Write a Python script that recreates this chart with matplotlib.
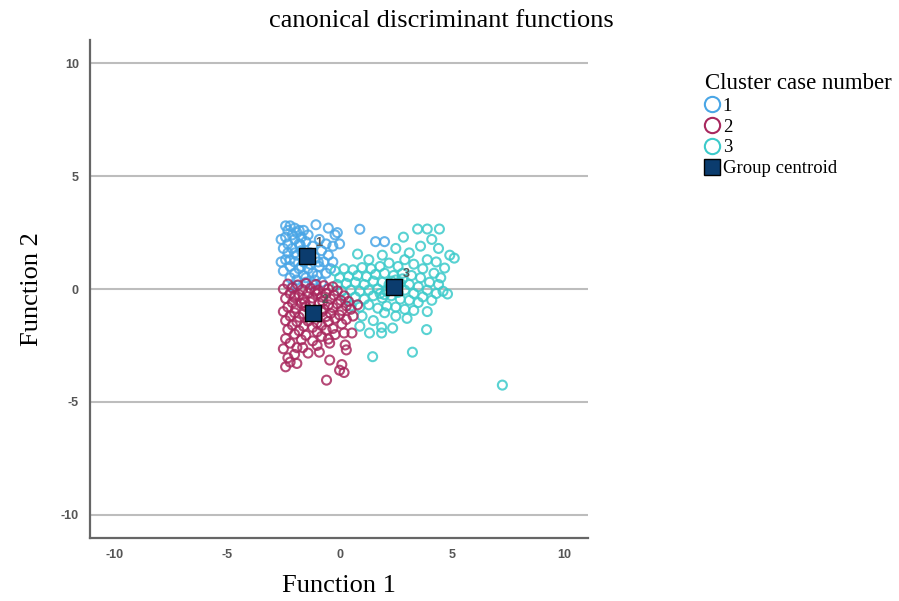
import matplotlib
matplotlib.use("Agg")
import matplotlib.pyplot as plt
from matplotlib.lines import Line2D

plt.rcParams["axes.unicode_minus"] = False

# ---- data (Function 1, Function 2) ----
c1_f1 = [-2.4,-2.2,-2.0,-2.3,-1.9,-2.1,-2.4,-1.7,-2.0,-2.3,-1.8,-1.5,-2.5,-2.1,-1.7,-2.3,-1.9,-2.4,-2.0,-1.6,
         -2.2,-1.8,-1.4,-2.0,-1.6,-1.2,-1.9,-1.5,-1.1,-0.9,-1.1,-0.8,-1.2,-0.9,-1.05,-0.6,-0.5,-0.7,-0.4,-0.2,
         -0.1,-0.3,-1.3,-1.4,-1.6,-2.6,-2.6,-2.5,-2.2,-1.3,-1.0,-0.6,-0.3,0.0,0.9,1.6,2.0,-1.7,-2.0,-1.8,
         -2.2,-0.5,-1.5,-1.2,-0.8,-2.1,-1.9,-1.4,-0.95,-1.75]
c1_f2 = [2.8,2.8,2.7,2.6,2.5,2.4,2.3,2.3,2.2,2.0,2.0,2.1,1.8,1.8,1.7,1.6,1.5,1.3,1.2,1.2,
         1.0,0.9,0.9,0.7,0.6,0.7,0.4,0.3,0.4,1.0,1.4,1.7,1.9,2.2,2.85,2.0,1.5,1.2,0.9,2.4,
         2.5,1.9,1.6,2.4,2.6,2.2,1.2,0.8,0.5,1.1,0.6,0.7,1.2,2.0,2.65,2.1,2.1,1.0,1.6,2.6,
         1.3,2.7,0.5,0.2,0.3,0.1,0.15,1.45,1.2,1.95]

c2_f1 = [-2.3,-1.85,-1.5,-1.05,-0.7,-0.3,
         -2.5,-2.1,-1.65,-1.3,-0.95,-0.5,-0.1,
         -2.2,-1.8,-1.4,-1.0,-0.6,-0.25,0.2,
         -2.4,-2.0,-1.6,-1.2,-0.8,-0.4,0.05,0.4,
         -2.1,-1.7,-1.3,-0.9,-0.5,-0.1,0.3,
         -2.3,-1.95,-1.5,-0.7,-0.3,0.1,0.5,
         -2.5,-2.0,-1.6,-0.8,-0.4,0.0,
         -2.2,-1.8,-0.6,-0.2,0.3,
         -2.4,-1.9,-1.4,-1.0,-0.5,0.1,
         -2.1,-1.6,-1.2,-0.8,-0.3,
         -2.3,-1.8,-1.0,-0.6,0.2,
         -2.0,-1.5,-0.8,-0.2,
         -2.4,-1.7,-1.2,-0.5,
         -2.2,-0.44,-1.0,
         -2.5,-1.9,-1.64,0.3,
         -1.4,-2.0,-0.9,
         -0.44,-2.3,
         -2.2,-1.9,0.1,
         -2.4,0.0,
         0.2,
         -0.58,
         0.55,0.25,0.8,0.6,-1.55,-2.0,-1.1,-0.75]
c2_f2 = [0.22,0.18,0.25,0.2,0.15,0.1,
         0.0,0.05,-0.02,0.03,-0.05,0.0,-0.08,
         -0.2,-0.25,-0.18,-0.22,-0.2,-0.27,-0.3,
         -0.42,-0.38,-0.45,-0.4,-0.35,-0.44,-0.5,-0.55,
         -0.6,-0.65,-0.58,-0.62,-0.7,-0.66,-0.75,
         -0.8,-0.85,-0.78,-0.9,-0.82,-0.95,-0.9,
         -1.0,-1.05,-1.1,-1.02,-1.08,-1.15,
         -1.2,-1.25,-1.22,-1.3,-1.35,
         -1.4,-1.45,-1.42,-1.5,-1.44,-1.55,
         -1.6,-1.65,-1.7,-1.62,-1.75,
         -1.8,-1.85,-1.9,-1.82,-1.95,
         -2.0,-2.05,-2.1,-2.02,
         -2.2,-2.25,-2.3,-2.22,
         -2.4,-2.4,-2.5,
         -2.65,-2.6,-2.6,-2.7,
         -2.84,-2.9,-2.8,
         -3.15,-3.05,
         -3.24,-3.3,-3.35,
         -3.45,-3.6,
         -3.7,
         -4.04,
         -1.95,-2.48,-0.7,-1.2,-0.6,-0.3,-0.1,-0.55]

c3_f1 = [3.47,3.9,4.44,2.84,4.1,3.6,4.4,4.9,5.1,3.1,2.5,1.9,1.3,0.8,3.9,4.3,4.67,4.2,3.7,3.3,
         2.9,2.6,2.2,1.8,1.4,1.0,0.6,0.2,-0.2,0.0,0.4,0.8,1.2,1.6,2.0,2.4,2.8,3.2,3.6,4.0,
         4.4,4.8,-0.1,0.3,0.7,1.1,1.5,1.9,2.3,2.7,3.1,3.5,3.9,4.3,0.1,0.5,0.9,1.3,1.7,2.1,
         2.9,3.3,3.7,4.1,0.3,0.7,1.1,1.5,1.9,2.3,2.7,3.1,3.5,0.5,0.9,1.3,1.7,2.1,2.5,2.9,
         3.3,3.9,1.0,1.5,2.5,2.0,3.0,0.9,4.6,4.5,2.4,2.6,2.2,2.0,2.8,2.5,1.8,
         1.47,3.24,1.87,1.87,2.36,3.87,1.33,
         7.24]
c3_f2 = [2.66,2.66,2.66,2.3,2.2,1.9,1.8,1.5,1.37,1.6,1.8,1.5,1.3,1.55,1.3,1.2,0.93,0.7,0.9,1.1,
         1.3,1.0,1.15,1.0,0.9,0.95,0.85,0.9,0.8,0.5,0.55,0.6,0.55,0.65,0.7,0.6,0.7,0.6,0.5,0.3,
         0.2,-0.22,0.2,0.25,0.3,0.2,0.35,0.3,0.35,0.25,0.2,0.1,-0.05,-0.2,-0.1,-0.05,-0.1,-0.05,0.0,-0.1,
         -0.05,-0.2,-0.35,-0.5,-0.4,-0.35,-0.45,-0.3,-0.4,-0.3,-0.45,-0.5,-0.6,-0.75,-0.8,-0.7,-0.85,-0.75,-0.8,-0.9,
         -0.95,-1.0,-1.2,-1.4,-1.2,-1.05,-1.3,-1.65,-0.1,0.5,0.05,-0.15,0.2,-0.25,0.45,0.4,-0.2,
         -3.0,-2.8,-1.7,-1.95,-1.73,-1.8,-1.95,
         -4.26]

centroid_f1 = [-1.47, -1.16, 2.44]
centroid_f2 = [1.46, -1.06, 0.09]
centroid_labels = ["1", "2", "3"]

legend_labels = ["1", "2", "3", "Group centroid"]
x_ticks = [-10, -5, 0, 5, 10]
y_ticks = [-10, -5, 0, 5, 10]

col1 = "#4aa6e6"
col2 = "#a8285e"
col3 = "#3ccaca"
cent_col = "#0b3c6e"

fig = plt.figure(figsize=(8.99, 6.01), dpi=100)
ax = fig.add_axes([0.1001, 0.1048, 0.554, 0.8286])

ax.set_xlim(-11.1, 11.05)
ax.set_ylim(-11.04, 11.04)
ax.set_xticks(x_ticks)
ax.set_yticks(y_ticks)
for yv in y_ticks:
    ax.axhline(yv, color="#bdbdbd", lw=1.5, zorder=0)

ms = 42
ax.scatter(c1_f1, c1_f2, s=ms, facecolors="none", edgecolors=col1, linewidths=1.5, alpha=0.85, zorder=2)
ax.scatter(c3_f1, c3_f2, s=ms, facecolors="none", edgecolors=col3, linewidths=1.5, alpha=0.85, zorder=3)
ax.scatter(c2_f1, c2_f2, s=ms, facecolors="none", edgecolors=col2, linewidths=1.5, alpha=0.85, zorder=4)
ax.scatter(centroid_f1, centroid_f2, s=120, marker="s", facecolors=cent_col, edgecolors="black",
           linewidths=1.0, zorder=6)
for fx, fy, lab in zip(centroid_f1, centroid_f2, centroid_labels):
    ax.annotate(lab, (fx, fy), xytext=(6, 7), textcoords="offset points", fontsize=9,
                color="#555555", fontweight="bold", family="Liberation Sans", zorder=7)

for s in ["top", "right"]:
    ax.spines[s].set_visible(False)
for s in ["left", "bottom"]:
    ax.spines[s].set_color("#666666")
    ax.spines[s].set_linewidth(1.6)
ax.tick_params(length=0, pad=8, labelsize=9, labelcolor="#555555")
for t in ax.get_xticklabels() + ax.get_yticklabels():
    t.set_fontweight("bold")
    t.set_family("Liberation Sans")

ax.set_xlabel("Function 1", family="Liberation Serif", fontsize=19, labelpad=10)
ax.set_ylabel("Function 2", family="Liberation Serif", fontsize=19, labelpad=13)
fig.text(0.491, 0.965, "canonical discriminant functions", family="Liberation Serif",
         fontsize=19, ha="center", va="center")

handles = [
    Line2D([], [], marker="o", ls="none", markerfacecolor="none", markeredgecolor=col1, markersize=11, mew=1.5),
    Line2D([], [], marker="o", ls="none", markerfacecolor="none", markeredgecolor=col2, markersize=11, mew=1.5),
    Line2D([], [], marker="o", ls="none", markerfacecolor="none", markeredgecolor=col3, markersize=11, mew=1.5),
    Line2D([], [], marker="s", ls="none", markerfacecolor=cent_col, markeredgecolor="black", markersize=11, mew=1.0),
]
leg = fig.legend(handles, legend_labels, loc="upper left", bbox_to_anchor=(0.784, 0.878),
                 frameon=False, title="Cluster case number",
                 prop={"family": "Liberation Serif", "size": 13.5},
                 handlelength=0.8, handletextpad=0.15, labelspacing=0.19, borderaxespad=0,
                 borderpad=0)
leg.get_title().set_family("Liberation Serif")
leg.get_title().set_fontsize(16.5)
leg._legend_box.align = "left"

fig.savefig("out.png", dpi=100)
